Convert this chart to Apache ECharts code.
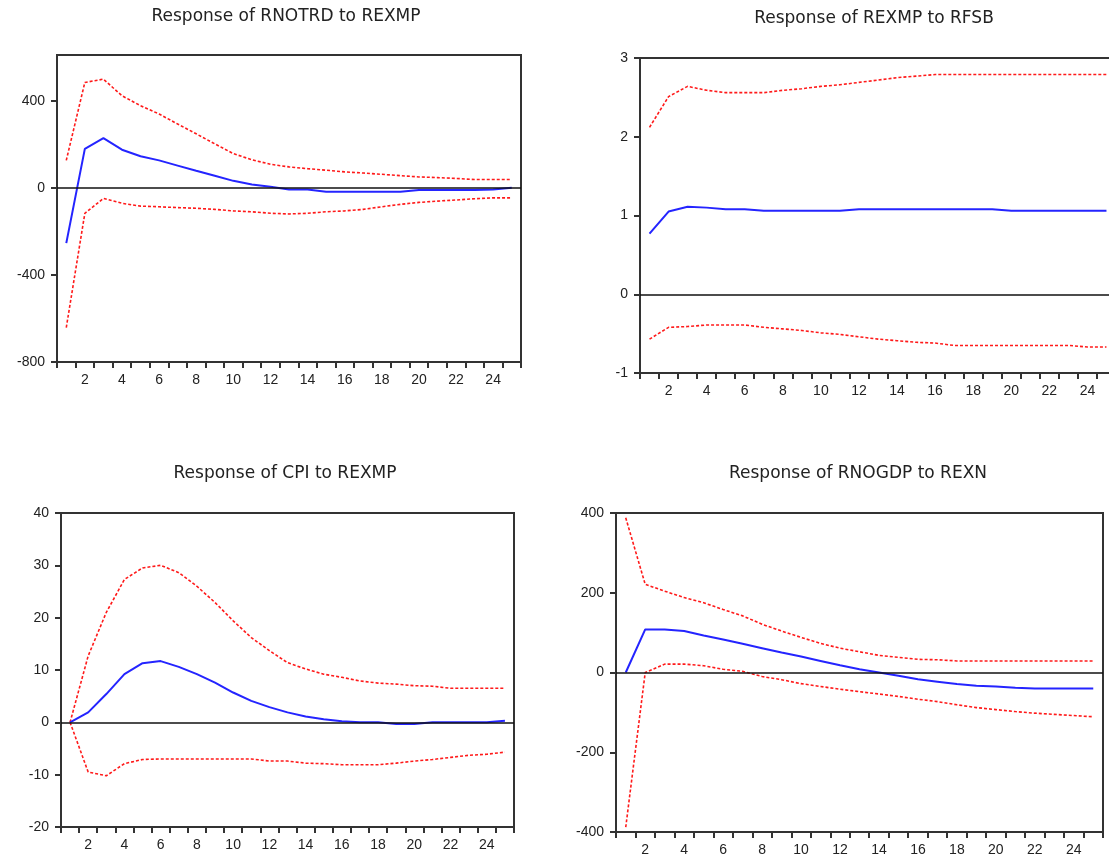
<!DOCTYPE html>
<html>
<head>
<meta charset="utf-8">
<script src="https://cdn.jsdelivr.net/npm/echarts@6/dist/echarts.min.js"></script>
<style>
  html, body { margin: 0; padding: 0; background: #fff; }
  #chart { width: 1109px; height: 865px; }
</style>
</head>
<body>
<div id="chart"></div>
<script>
const periods = ["1", "2", "3", "4", "5", "6", "7", "8", "9", "10", "11", "12", "13",
  "14", "15", "16", "17", "18", "19", "20", "21", "22", "23", "24", "25"];

// Response of RNOTRD to REXMP
const rnotrdResp = [-254, 179, 228, 175, 145, 126, 102, 78, 55, 32, 15, 5, -8, -8, -18,
  -18, -18, -18, -18, -10, -10, -10, -10, -8, 0];
const rnotrdUpper = [126, 484, 499, 423, 377, 339, 293, 248, 202, 157, 129, 108, 96, 88,
  81, 73, 68, 62, 56, 50, 47, 43, 38, 38, 38];
const rnotrdLower = [-642, -117, -49, -71, -84, -87, -91, -94, -99, -106, -110, -117, -120,
  -117, -110, -106, -99, -87, -76, -67, -61, -56, -50, -46, -46];

// Response of REXMP to RFSB
const rexmpResp = [0.77, 1.05, 1.11, 1.10, 1.08, 1.08, 1.06, 1.06, 1.06, 1.06, 1.06, 1.08,
  1.08, 1.08, 1.08, 1.08, 1.08, 1.08, 1.08, 1.06, 1.06, 1.06, 1.06, 1.06, 1.06];
const rexmpUpper = [2.12, 2.51, 2.64, 2.59, 2.56, 2.56, 2.56, 2.59, 2.61, 2.64, 2.66, 2.69,
  2.72, 2.75, 2.77, 2.79, 2.79, 2.79, 2.79, 2.79, 2.79, 2.79, 2.79, 2.79, 2.79];
const rexmpLower = [-0.57, -0.42, -0.41, -0.39, -0.39, -0.39, -0.42, -0.44, -0.46, -0.49,
  -0.51, -0.54, -0.57, -0.59, -0.61, -0.62, -0.65, -0.65, -0.65, -0.65, -0.65, -0.65,
  -0.65, -0.67, -0.67];

// Response of CPI to REXMP
const cpiResp = [0, 1.9, 5.4, 9.2, 11.3, 11.7, 10.6, 9.2, 7.6, 5.7, 4.1, 2.9, 1.9, 1.1,
  0.6, 0.2, 0, 0, -0.3, -0.3, 0, 0, 0, 0, 0.3];
const cpiUpper = [0, 12.7, 21, 27.3, 29.5, 30, 28.6, 26, 22.9, 19.4, 16.2, 13.7, 11.4,
  10.2, 9.2, 8.6, 7.9, 7.5, 7.3, 7.0, 6.9, 6.5, 6.5, 6.5, 6.5];
const cpiLower = [0, -9.5, -10.2, -7.9, -7.1, -7.0, -7.0, -7.0, -7.0, -7.0, -7.0, -7.4,
  -7.4, -7.8, -7.9, -8.1, -8.1, -8.1, -7.8, -7.4, -7.1, -6.7, -6.3, -6.1, -5.7];

// Response of RNOGDP to REXN
const rnogdpResp = [0, 108, 108, 104, 93, 83, 72, 61, 50, 40, 29, 18, 8, 0, -8, -17, -23,
  -29, -33, -35, -38, -40, -40, -40, -40];
const rnogdpUpper = [388, 221, 204, 188, 175, 158, 142, 121, 104, 88, 73, 61, 52, 43, 38,
  33, 32, 29, 29, 29, 29, 29, 29, 29, 29];
const rnogdpLower = [-388, 0, 21, 21, 17, 8, 3, -10, -18, -28, -35, -42, -48, -54, -60,
  -67, -73, -81, -88, -93, -98, -102, -105, -108, -111];

const titles = ["Response of RNOTRD to REXMP", "Response of REXMP to RFSB",
  "Response of CPI to REXMP", "Response of RNOGDP to REXN"];
const yTicks = [[-800, -400, 0, 400], [-1, 0, 1, 2, 3], [-20, -10, 0, 10, 20, 30, 40],
  [-400, -200, 0, 200, 400]];

const panels = [
  { resp: rnotrdResp, upper: rnotrdUpper, lower: rnotrdLower, min: -800, max: 610,
    box: { left: 57, top: 55, width: 464, height: 307 }, titleX: 286, titleY: 8 },
  { resp: rexmpResp, upper: rexmpUpper, lower: rexmpLower, min: -1, max: 3,
    box: { left: 640, top: 58, width: 476, height: 315 }, titleX: 874, titleY: 10 },
  { resp: cpiResp, upper: cpiUpper, lower: cpiLower, min: -20, max: 40,
    box: { left: 61, top: 513, width: 453, height: 314 }, titleX: 285, titleY: 465 },
  { resp: rnogdpResp, upper: rnogdpUpper, lower: rnogdpLower, min: -400, max: 400,
    box: { left: 616, top: 513, width: 487, height: 319 }, titleX: 858, titleY: 465 },
];

const font = "Liberation Sans";
const chart = echarts.init(document.getElementById("chart"), null, { renderer: "canvas" });

const option = {
  backgroundColor: "#fff",
  animation: false,
  title: [],
  grid: [],
  xAxis: [],
  yAxis: [],
  series: [],
};

panels.forEach((p, i) => {
  option.title.push({
    text: titles[i],
    left: p.titleX,
    top: p.titleY,
    textAlign: "center",
    padding: 0,
    textStyle: { fontFamily: "DejaVu Sans", fontSize: 17, fontWeight: "normal", color: "#222" },
  });
  option.grid.push(Object.assign({
    show: true,
    borderColor: "#333",
    borderWidth: 2,
    containLabel: false,
    outerBoundsMode: "none",
  }, p.box));
  option.xAxis.push({
    type: "category",
    gridIndex: i,
    data: periods,
    boundaryGap: true,
    axisLine: { show: true, onZero: false, lineStyle: { color: "#333", width: 2 } },
    axisTick: { show: true, interval: 0, inside: false, length: 6,
      lineStyle: { color: "#333", width: 2 } },
    axisLabel: {
      interval: (idx) => idx % 2 === 1,
      margin: 11,
      fontFamily: font,
      fontSize: 14,
      color: "#222",
    },
    splitLine: { show: false },
  });
  option.yAxis.push({
    type: "value",
    gridIndex: i,
    min: p.min,
    max: p.max,
    axisLine: { show: true, lineStyle: { color: "#333", width: 2 } },
    axisTick: { show: true, inside: false, length: 6, customValues: yTicks[i],
      lineStyle: { color: "#333", width: 2 } },
    axisLabel: { customValues: yTicks[i], margin: 12, fontFamily: font, fontSize: 14,
      color: "#222" },
    splitLine: { show: false },
  });
  option.series.push({
    type: "line",
    xAxisIndex: i,
    yAxisIndex: i,
    data: p.upper,
    symbol: "none",
    lineStyle: { color: "#ff1a1a", width: 1.6, type: [3, 2] },
  });
  option.series.push({
    type: "line",
    xAxisIndex: i,
    yAxisIndex: i,
    data: p.lower,
    symbol: "none",
    lineStyle: { color: "#ff1a1a", width: 1.6, type: [3, 2] },
  });
  option.series.push({
    type: "line",
    xAxisIndex: i,
    yAxisIndex: i,
    data: p.resp,
    symbol: "none",
    lineStyle: { color: "#2424ff", width: 2 },
    markLine: {
      silent: true,
      symbol: "none",
      label: { show: false },
      lineStyle: { color: "#111", width: 1.5, type: "solid" },
      data: [{ yAxis: 0 }],
    },
  });
});

chart.setOption(option);
</script>
</body>
</html>
